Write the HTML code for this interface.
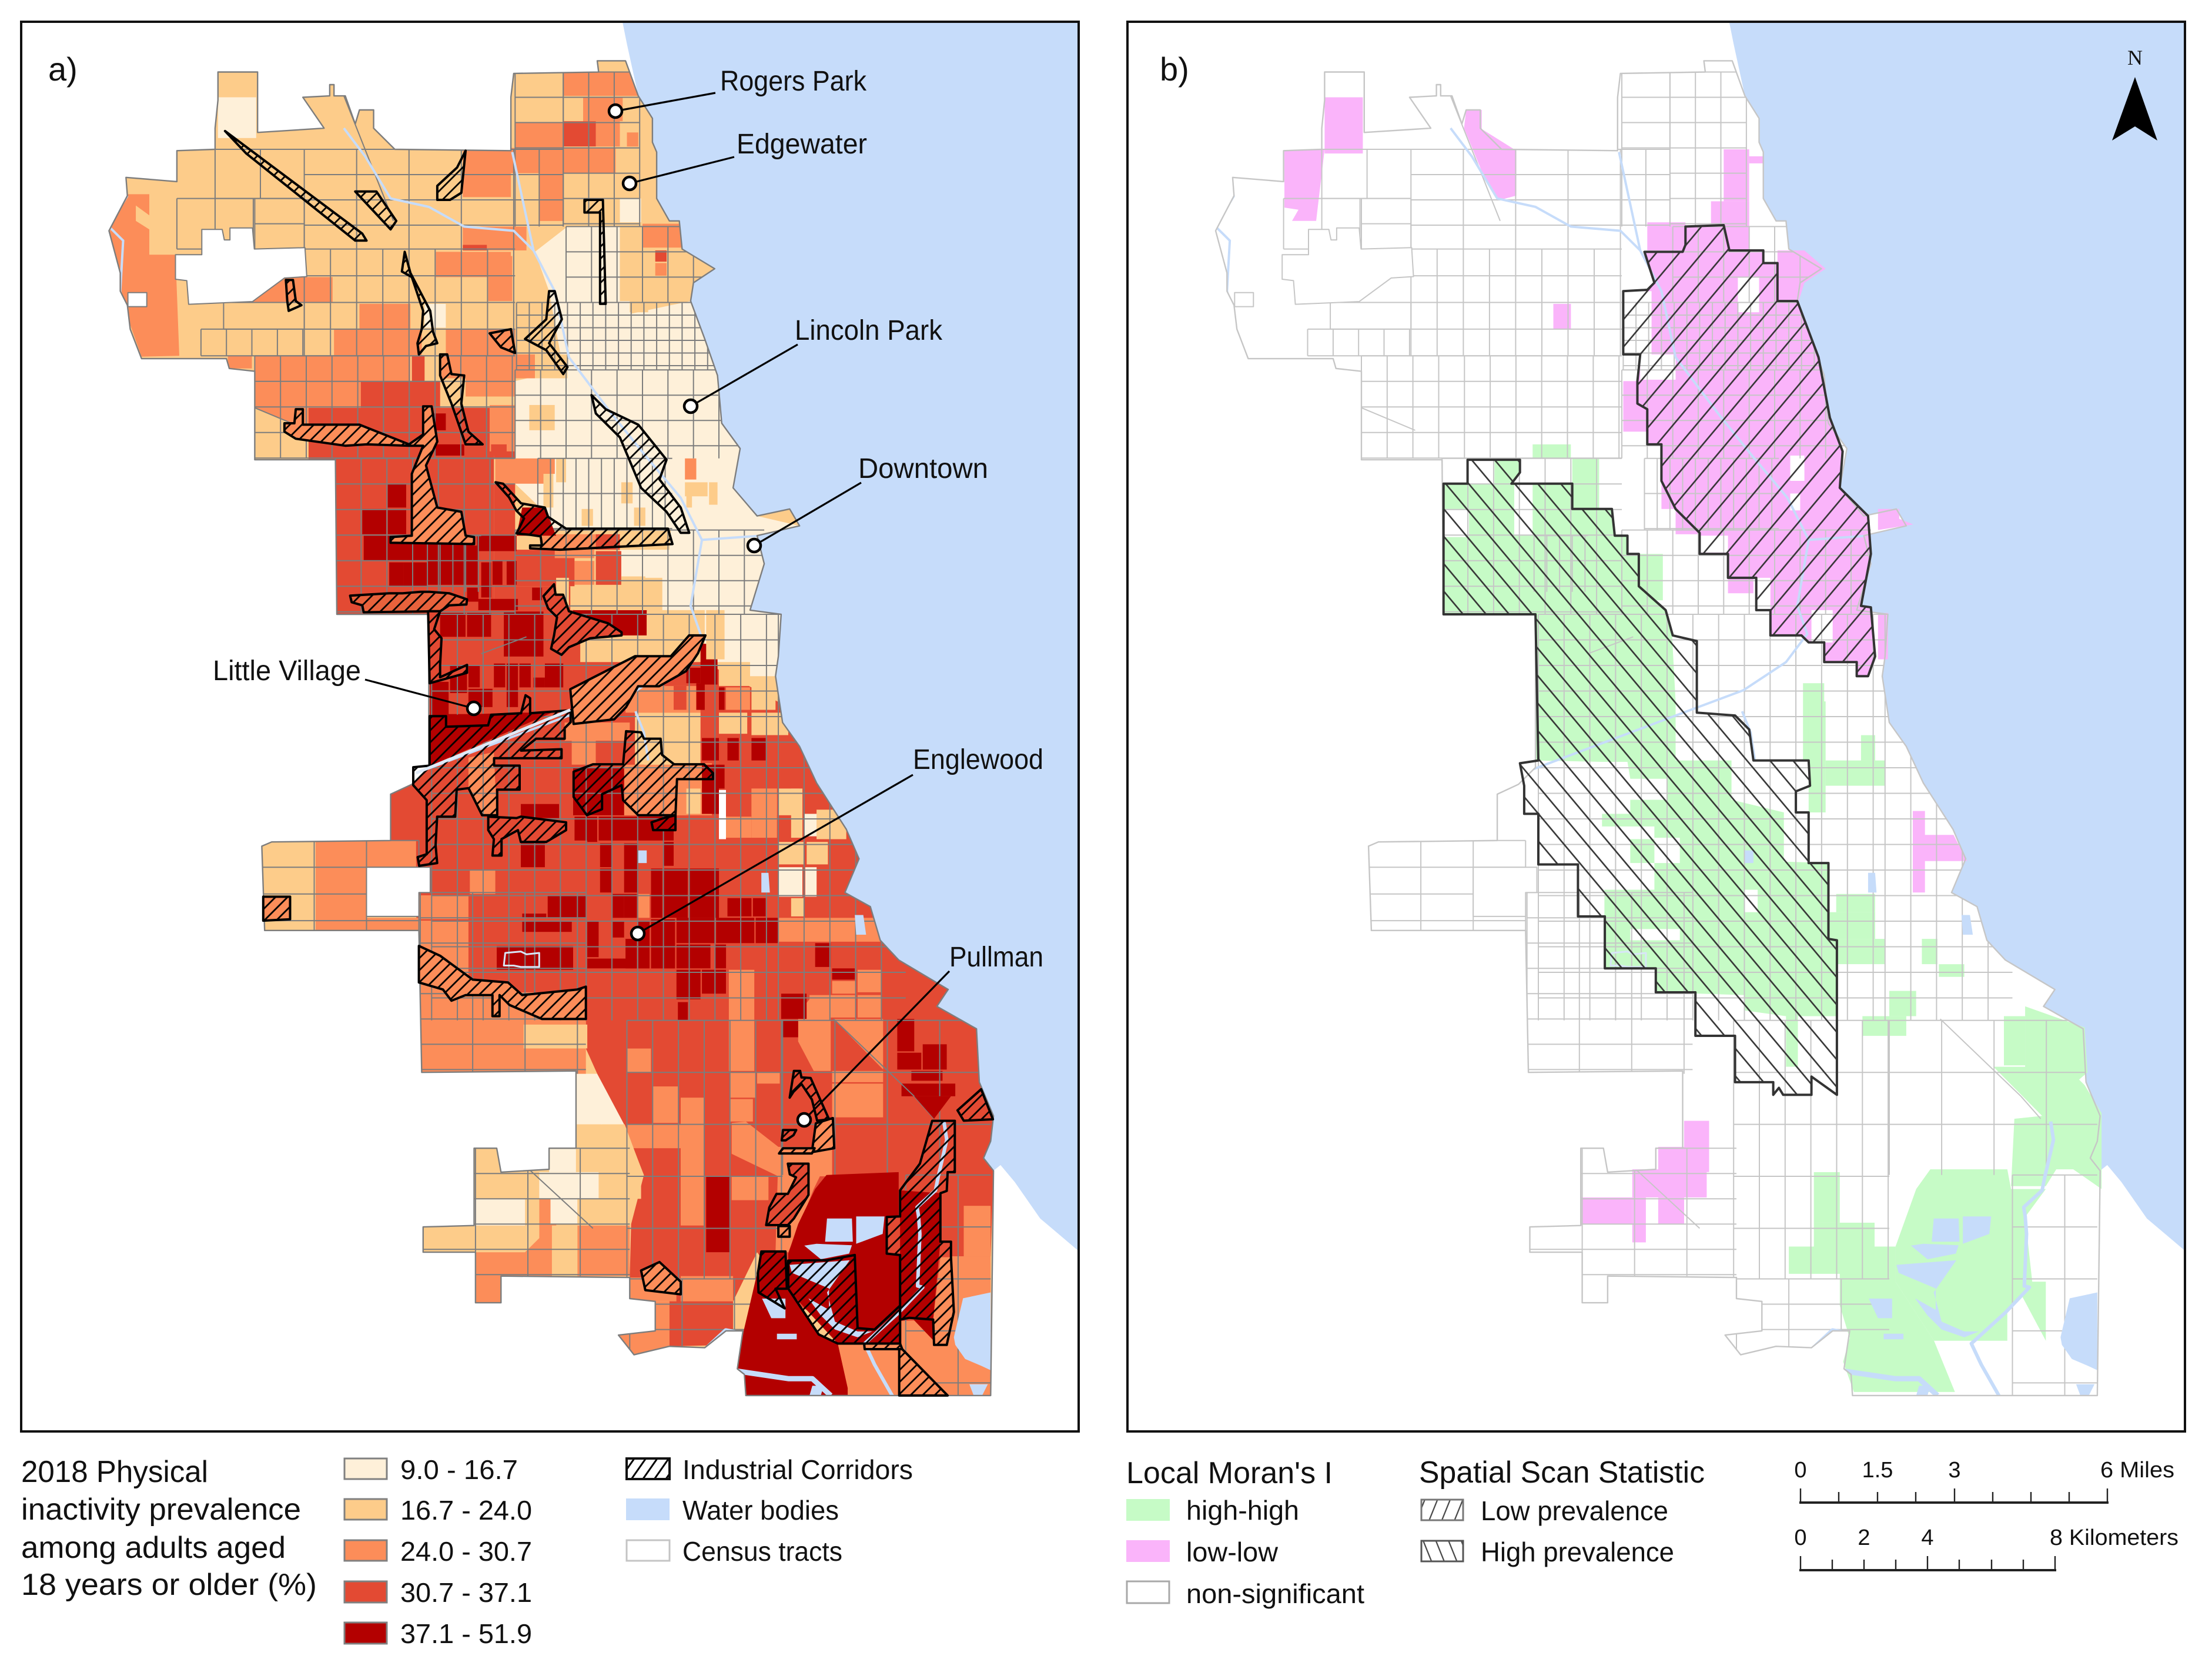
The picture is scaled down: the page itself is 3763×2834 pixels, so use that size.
<!DOCTYPE html>
<html lang="en">
<head>
<meta charset="utf-8">
<title>Physical inactivity prevalence in Chicago</title>
<style>
html,body{margin:0;padding:0;background:#fff}
svg{display:block}
text{font-family:"Liberation Sans",sans-serif;fill:#111}
</style>
</head>
<body>
<svg id="figure" xmlns="http://www.w3.org/2000/svg" width="3763" height="2834" viewBox="0 0 3763 2834">
<defs>
<pattern id="hatch-a" patternUnits="userSpaceOnUse" width="14.5" height="14.5" patternTransform="rotate(45)"><line x1="4" y1="0" x2="4" y2="14.5" stroke="#000" stroke-width="2.8"/></pattern>
<pattern id="hatch-low" patternUnits="userSpaceOnUse" width="30" height="30" patternTransform="rotate(40)"><line x1="5" y1="0" x2="5" y2="30" stroke="#333" stroke-width="2.6"/></pattern>
<pattern id="hatch-high" patternUnits="userSpaceOnUse" width="30" height="30" patternTransform="rotate(-40)"><line x1="5" y1="0" x2="5" y2="30" stroke="#333" stroke-width="2.6"/></pattern>
<pattern id="leg-a" patternUnits="userSpaceOnUse" width="16" height="16" patternTransform="rotate(35)"><line x1="3" y1="0" x2="3" y2="16" stroke="#000" stroke-width="3"/></pattern>
<pattern id="leg-low" patternUnits="userSpaceOnUse" width="20" height="20" patternTransform="rotate(22)"><line x1="3" y1="0" x2="3" y2="20" stroke="#444" stroke-width="2.2"/></pattern>
<pattern id="leg-high" patternUnits="userSpaceOnUse" width="20" height="20" patternTransform="rotate(-22)"><line x1="3" y1="0" x2="3" y2="20" stroke="#444" stroke-width="2.2"/></pattern>
</defs>

<g id="map-a"></g>
<g id="map-b"></g>

<rect x="36" y="37" width="1799" height="2398" fill="none" stroke="#111" stroke-width="4"/>
<rect x="1918" y="37" width="1799" height="2398" fill="none" stroke="#111" stroke-width="4"/>
<text x="82" y="137" font-size="56">a)</text>
<text x="1973" y="137" font-size="56">b)</text>

<g>
<g stroke="#000" stroke-width="3.2">
<line x1="1217" y1="158" x2="1047" y2="189"/>
<line x1="1249" y1="267" x2="1071" y2="312"/>
<line x1="1357" y1="586" x2="1175" y2="691"/>
<line x1="1465" y1="821" x2="1283" y2="928"/>
<line x1="621" y1="1156" x2="806" y2="1205"/>
<line x1="1553" y1="1318" x2="1085" y2="1588"/>
<line x1="1615" y1="1652" x2="1368" y2="1905"/>
</g>
<g fill="#fff" stroke="#000" stroke-width="4.5">
<circle cx="1047" cy="189" r="11"/>
<circle cx="1071" cy="312" r="11"/>
<circle cx="1175" cy="691" r="11"/>
<circle cx="1283" cy="928" r="11"/>
<circle cx="806" cy="1205" r="11"/>
<circle cx="1085" cy="1588" r="11"/>
<circle cx="1368" cy="1905" r="11"/>
</g>
<g font-size="48">
<text x="1225" y="154" textLength="249" lengthAdjust="spacingAndGlyphs">Rogers Park</text>
<text x="1253" y="261" textLength="222" lengthAdjust="spacingAndGlyphs">Edgewater</text>
<text x="1352" y="578" textLength="251" lengthAdjust="spacingAndGlyphs">Lincoln Park</text>
<text x="1460" y="813" textLength="221" lengthAdjust="spacingAndGlyphs">Downtown</text>
<text x="362" y="1157" textLength="252" lengthAdjust="spacingAndGlyphs">Little Village</text>
<text x="1553" y="1308" textLength="222" lengthAdjust="spacingAndGlyphs">Englewood</text>
<text x="1615" y="1644" textLength="160" lengthAdjust="spacingAndGlyphs">Pullman</text>
</g>
</g>

<g>
<text x="3632" y="110" font-size="36" text-anchor="middle" style="font-family:'Liberation Serif',serif">N</text>
<polygon points="3632,131 3670,239 3632,215 3593,239" fill="#000"/>
</g>

<g>
<g font-size="52">
<text x="36" y="2521" textLength="318" lengthAdjust="spacingAndGlyphs">2018 Physical</text>
<text x="36" y="2585" textLength="476" lengthAdjust="spacingAndGlyphs">inactivity prevalence</text>
<text x="36" y="2650" textLength="450" lengthAdjust="spacingAndGlyphs">among adults aged</text>
<text x="36" y="2713" textLength="503" lengthAdjust="spacingAndGlyphs">18 years or older (%)</text>
</g>
<g stroke="#808080" stroke-width="3">
<rect x="586" y="2481" width="72" height="35" fill="#fef0d9"/>
<rect x="586" y="2550" width="72" height="35" fill="#fdcc8a"/>
<rect x="586" y="2620" width="72" height="35" fill="#fc8d59"/>
<rect x="586" y="2690" width="72" height="36" fill="#e34a33"/>
<rect x="586" y="2760" width="72" height="36" fill="#b30000"/>
</g>
<g font-size="46">
<text x="681" y="2516" textLength="200" lengthAdjust="spacingAndGlyphs">9.0 - 16.7</text>
<text x="681" y="2585" textLength="224" lengthAdjust="spacingAndGlyphs">16.7 - 24.0</text>
<text x="681" y="2655" textLength="224" lengthAdjust="spacingAndGlyphs">24.0 - 30.7</text>
<text x="681" y="2725" textLength="224" lengthAdjust="spacingAndGlyphs">30.7 - 37.1</text>
<text x="681" y="2795" textLength="224" lengthAdjust="spacingAndGlyphs">37.1 - 51.9</text>
<text x="1161" y="2516" textLength="392" lengthAdjust="spacingAndGlyphs">Industrial Corridors</text>
<text x="1161" y="2585" textLength="266" lengthAdjust="spacingAndGlyphs">Water bodies</text>
<text x="1161" y="2655" textLength="272" lengthAdjust="spacingAndGlyphs">Census tracts</text>
</g>
<rect x="1066" y="2481" width="73" height="35" fill="url(#leg-a)" stroke="#111" stroke-width="4"/>
<rect x="1065" y="2549" width="74" height="37" fill="#c6dcfa"/>
<rect x="1066" y="2620" width="73" height="35" fill="#fff" stroke="#c4c4c4" stroke-width="3"/>
</g>

<g>
<text x="1916" y="2523" font-size="52" textLength="351" lengthAdjust="spacingAndGlyphs">Local Moran's I</text>
<text x="2414" y="2522" font-size="52" textLength="486" lengthAdjust="spacingAndGlyphs">Spatial Scan Statistic</text>
<rect x="1916" y="2550" width="74" height="37" fill="#c6fbc6"/>
<rect x="1916" y="2620" width="74" height="37" fill="#fab4fa"/>
<rect x="1917" y="2690" width="72" height="37" fill="#fff" stroke="#a8a8a8" stroke-width="3"/>
<rect x="2418" y="2551" width="71" height="35" fill="url(#leg-low)" stroke="#777" stroke-width="3"/>
<rect x="2418" y="2621" width="71" height="35" fill="url(#leg-high)" stroke="#555" stroke-width="3"/>
<g font-size="46">
<text x="2018" y="2585" textLength="192" lengthAdjust="spacingAndGlyphs">high-high</text>
<text x="2018" y="2656" textLength="156" lengthAdjust="spacingAndGlyphs">low-low</text>
<text x="2018" y="2727" textLength="303" lengthAdjust="spacingAndGlyphs">non-significant</text>
<text x="2519" y="2586" textLength="319" lengthAdjust="spacingAndGlyphs">Low prevalence</text>
<text x="2519" y="2656" textLength="329" lengthAdjust="spacingAndGlyphs">High prevalence</text>
</g>
</g>

<g>
<g id="scale-miles"></g>
<g id="scale-km"></g>
<g font-size="38">
<text x="3063" y="2513" text-anchor="middle">0</text>
<text x="3194" y="2513" text-anchor="middle">1.5</text>
<text x="3325" y="2513" text-anchor="middle">3</text>
<text x="3573" y="2513" textLength="126" lengthAdjust="spacingAndGlyphs">6 Miles</text>
<text x="3063" y="2628" text-anchor="middle">0</text>
<text x="3171" y="2628" text-anchor="middle">2</text>
<text x="3279" y="2628" text-anchor="middle">4</text>
<text x="3487" y="2628" textLength="219" lengthAdjust="spacingAndGlyphs">8 Kilometers</text>
</g>
</g>
</svg>

<script>
// ---- Geographic data, in map units ----
const lakeShore = "440,15 762,15 762,889 735,866 717,840 707,828 702,832 695,823 700,811 702,793 692,769 690,731 662,715 670,703 635,682 622,668 615,644 597,634 607,610 598,589 577,556 565,530 553,513 548,480 550,466 552,436 530,433 540,400 535,380 565,373 558,361 535,366 518,346 523,318 510,300 507,266 498,240 488,213 490,200 505,190 482,176 480,156 473,156 464,140 464,107 461,100 461,83 451,67 443,30";
const cityOutline = "154,50 182,50 182,93 229,90 214,68 233,67 233,59 236,59 236,67 244,67 251,87 254,77 264,77 264,90 279,105 361,106 361,68 363,51 423,50 422,42 442,42 451,67 461,83 461,100 464,107 464,140 473,156 480,156 482,176 505,190 490,200 488,213 498,240 507,266 510,300 523,318 518,346 535,366 558,361 565,373 535,380 540,400 530,433 552,436 550,466 548,480 553,513 565,530 577,556 598,589 607,610 597,634 615,644 622,668 635,682 670,703 662,715 690,731 692,769 702,793 700,811 695,823 702,832 700,992 527,992 526,977 521,973 525,946 513,946 498,958 473,957 448,963 437,949 463,946 463,925 445,923 445,908 354,907 354,926 336,926 336,890 299,890 299,872 335,871 335,816 351,816 354,833 388,831 388,816 407,816 407,761 298,762 296,661 187,661 185,601 192,598 276,597 276,564 291,557 303,545 303,436 238,436 237,326 180,326 180,263 162,261 160,254 100,254 92,233 90,216 85,206 85,193 77,163 90,138 89,125 125,128 125,106 152,105 152,90 154,70";
const holePolys = ["124,180 142.6,180 142.6,162 157,162 158.5,169.5 162.5,169.5 162.5,161 178.4,161 179.7,176 215.5,175 216.8,195.6 201,196.6 178.4,213.4 133.3,215.3 132,198.5 124,197.5","259,616 304,616 304,634 296,634 296,651 259,651","90.4,207 103.7,207 103.7,217 90.4,217"];
const rivers = ["362,107 377,177 392,206 402,253 432,293 456,323 481,353 496,383 538,380","496,383 488,430 495,450 480,470 450,490 410,505 294,549","243,90 258,110 276,140 303,146 328,160 363,163 377,177","90,138 77,160 87,170 85,206 95,250","449,505 455,520 458,540"];
const thickRivers = ["498,960 513,946 523,948 517,960 517,974 557,980 574,980 587,992"];
const calumetChannel = ["667,797 669,810 663,836 661,846 648,858 649,864 650,877 648.4,914 652,915 635,933 611,955 618,970 631,993"];
const waterPolys = ["584.4,866 602,866 602.6,882.5 583,882.5","605,864.5 625,864.5 623.7,877 609,882.5 605,884","568.3,885.3 577,884 602,885 600,891 580,895","558,899 600.4,895.7 584.4,918.6 590,939.4 606,946.4 616.4,946.4 606,950.6 590,945 580,935 571.2,922.8 585.8,931 585.8,915.8 559.6,904.7","674,950.5 680.5,922.8 700,918.6 700,974 693.7,971 682,966 675,956","685,984 698,984 694,992 688,992","451,604 457,604 457,613 451,613","538,620 543,620 544,634 538,634","604,650 610,650 612,664 605,664","538.5,923 555,923 555,937 545,937","549,948 563,948 563,952 549,952","574,985 582,985 580,992 572,992"];
const pondOutlines = ["357,677 368,676 372,678 381,677 381,687 368,687 363,686 356,686"];

const c1Polys = ["378,178 401,160 438,160 438,213 446,213 446,222 488,213 498,240 507,266 510,300 523,318 518,346 535,366 565,373 535,380 540,400 530,433 552,436 550,466 548,480 530,480 530,470 498,470 498,433 468,433 468,410 438,410 438,390 473,390 474,376 398,376 364,343 351,325 364,325 364,270 398,262 388,206","407.5,763 422,763 441.4,799 407.5,799"];
const c4BigPolys = ["303,433 410,433 410,470 498,470 553,500 577,556 598,589 607,610 597,634 615,644 622,668 635,682 670,703 662,715 690,731 692,769 702,793 700,811 695,823 702,832 700,893 665,893 665,955 610,956 560,925 535,890 518,925 518,956 473,957 473,925 445,908 446,870 455,835 441,799 422,763 414,745 414,726 297,726 297,660 276,597 276,564 291,557 303,545"];
const c4BigRects = [[218,289,349,326],[237,325,349,436],[349,288,364,325],[349,343,364,436],[364,390,406,416],[364,416,403,435]];
const c3Polys = ["180,271 218,271 218,305 180,289","179,213 201,196 201,214 179,214","88,137 105.5,137 105.5,152 96,145 96,156 105.5,162 105.5,180 124,180 126.7,252 100,252.6 91,227 85.6,205 83,190 77,165","331,538 349,534 351,579 340,579 331,560","572,710 587,710 587,761 575,761 564,740 564,720","589,724 624,724 624,760","517,798 527,797 550,815 588,815 588,836 550,836 517,820","550,820 588,818 575,845 557,890 548,890","592,955 636,955 636,992 599,992","660,938 672,893 700,893 700,992 637,992 637,939","664.5,893.6 672,893.6 674,932.5 669,956 660,956 659.4,938","381,852 390,852 399,907 354,907 354,926 336,926 336,890 371,890 381,880","408,871 445,871 445,907 408,907"];
const c3Rects = [[398,50,451,67],[412,68,440,85],[364,86,398,104],[421,85,438,103],[443,93,451,103],[361,104,435,122],[327,105,361,139],[381,122,398,156],[454,158,482,175],[463,186,471,195],[327,160,372,177],[308,178,361,196],[345,181,362,213],[201,196,235,214],[254,215,290,233],[236,233,298,252],[315,233,364,252],[312,251,378,268],[161,252,178,261],[180,252,218,271],[218,252,290,270],[218,270,255,289],[329,268,364,281],[346,287,364,320],[392,389,420,396],[406,398,420,415],[350,325,384,343],[384,325,392,336],[484,325,492,340],[383,379,421,390],[442,487,495,506],[513,488,530,504],[404,526,421,543],[399,513,445,526],[441,542,503,579],[477,555,485,579],[531,560,549,595],[513,580,531,595],[550,652,622,669],[223,597,259,661],[259,597,294,616],[259,652,296,661],[332,618,350,635],[296,636,331,653],[296,654,331,672],[451,635,459,652],[297,672,331,726],[297,705,414,763],[443,745,460,762],[515,689,533,761],[516,762,534,780],[535,762,551,770],[461,772,479,798],[443,799,481,816],[481,780,498,836],[481,836,498,871],[517,836,543,853],[516,781,532,797],[588,697,605,706],[606,689,623,705],[572,707,605,723],[606,707,623,723],[588,761,624,769],[588,770,624,794],[481,907,518,925],[445,908,478,925],[437,925,473,963],[681,857,700,893],[531,560,549,579]];
const c4SmallPolys = ["650,827 658.7,796.5 674.7,796.5 674.7,833 669.6,833 669,846.4 636,846","664.5,882.5 672,882.5 672,893.6 664.5,893.6"];
const c4Small = [[398,85,421,103],[327,173,344,177],[463,177,471,185],[421,379,438,390],[421,391,439,415],[291,252,300,272],[255,270,311,289],[421,526,440,540],[476,487,485,504],[442,519,455,543],[550,560,559,595],[347,315,358,323]];
const c5Polys = ["584,835 635,833 635,864 627,865 627,891 636,892 636,955 592,955 557,917 557,891 564,870 576,845","636,846 664.5,848 664.5,882 659.4,938 642.6,936.7 636,938","538,889.5 555,889.5 556,916 548,916 554.5,930 536,918.6 535.5,905","548,916 556,916 578.5,948.5 592,955 599,986.7 599,992 527,992 526,977 521,973 525.4,946.4 535,905","645.5,938 659.4,938 659.4,952.6","646,779 672,779 660,795","303.6,508 368,506 390,506 303.6,544","369,360 385,360 393,380 365,380"];
const c5Rects = [[303,293,315,305],[307,315,328,323],[274,343,287,360],[256,361,273,379],[274,361,287,379],[257,380,274,398],[274,380,334,398],[337,380,365,391],[275,399,285,416],[285,399,302,416],[302,387,338,415],[340,399,347,424],[348,398,355,415],[358,398,365,415],[376,417,383,426],[330,417,338,427],[338,425,366,433],[311,435,329,452],[330,435,347,452],[356,434,384,466],[318,472,330,492],[331,472,339,488],[349,471,357,488],[358,471,366,502],[367,471,375,488],[377,481,385,488],[385,471,398,488],[331,489,348,502],[304,484,317,508],[304,507,345,517],[405,433,457,451],[495,457,507,486],[485,474,495,485],[492,485,498,504],[508,488,512,504],[496,524,508,540],[514,524,522,540],[531,524,541,540],[496,543,508,578],[508,543,512,560],[368,571,395,581],[368,599,385,616],[405,545,441,579],[406,580,422,597],[423,580,476,597],[415,581,422,598],[424,599,432,616],[424,617,432,634],[441,599,451,634],[433,635,441,652],[441,635,450,652],[460,617,468,652],[469,617,486,652],[469,598,476,615],[487,617,508,652],[478,652,505,670],[506,652,533,670],[534,652,550,670],[514,638,531,651],[532,638,541,651],[387,636,414,652],[369,654,404,662],[369,649,386,652],[351,672,405,689],[415,654,423,680],[415,681,450,688],[433,654,441,666],[442,667,450,688],[451,654,459,688],[460,653,477,688],[478,671,502,688],[505,671,513,688],[496,689,513,706],[478,689,495,710],[479,712,486,725],[552,706,570,724],[552,725,564,737],[576,670,587,687],[588,688,604,696],[634,724,646,747],[634,748,651,760],[652,742,669,760],[644,761,666,768],[637,770,675,779],[499,836,516,890]];
const c2Polys = ["425.5,799 441.4,799 455,835.6 424.5,835.6","180,289 218,305 218,326 180,326"];
const c2Rects = [[398,68,412,85],[329,281,364,287],[378,251,401,268],[374,287,392,305],[445,213,458,221],[461,195,471,213],[393,410,402,433],[406,415,439,433],[439,409,456,420],[439,421,467,433],[457,434,468,451],[499,433,512,468],[484,342,500,352],[501,342,507,358],[485,350,489,360],[439,342,447,357],[411,361,419,373],[448,360,456,373],[384,336,391,360],[393,325,400,342],[448.7,506,495,543],[455,524,467,543],[508,506,528,521],[531,506,557,522],[531,488,548,504],[508,470,529,487],[485,560,495,578],[550,560,565,579],[559,560,567,595],[577,575,598,596],[550,598,568,614],[570,598,585,614],[559,638,568,651],[184,599,222,635],[187,654,222,661],[370,728,415,745],[407.5,799,424.5,835.6],[334,816,371,852],[299,871,371,890],[371,832,381,880],[424,835,453,852],[408,852,445,870],[390,871,408,907]];
const c1Rects = [[438,140,453,157],[300,215,315,232],[154,68,181,97],[550,616,567,637],[569,616,577,637],[568,578,577,594],[335,852,371,871],[388,816,407,833],[381,833,423,852],[389,852,408,870],[387,360,400,375]];
const whiteRects = [[508,561,513,596]];

// Tract grid zones: x0, x1, y0, y1, column step, row step
const gridZones = [[152,215,105,140,32,35],[125,180,140,176,27,36],[215,364,105,176,37,18],[215,364,176,252,18.5,19],[142,215,233,252,18,19],[180,215,140,176,35,18],[158,215,214,233,57,19],[364,398,50,105,34,18],[398,452,50,160,18,18],[364,398,105,160,17,18],[400,505,160,214,18,18],[365,540,214,262,9,9],[364,540,262,325,18,18],[380,475,325,376,9,25],[364,540,376,436,18,18],[180,364,252,325,18.2,18.2],[237,364,325,436,18.2,18.2],[302,340,380,420,9,200],[305,550,436,725,18.2,18.2],[550,640,436,725,18.2,18.2],[185,296,597,661,37,19],[297,414,634,763,37,18],[443,553,725,909,18.2,37],[553,700,725,835,37,37],[640,700,835,992,37,37],[445,553,909,960,37,18],[299,445,816,907,37,18]];
const diagonalTracts = ["243,67 278,156","362,820 419,873","180,289 218,305","589,724 646,779","646,779 660,795","340,464 372,452"];

const corridors = [
 ["159,92 256,165 259,170 251,170 174,108",null],
 ["251,135 266,135 280,156 276,162",null],
 ["329,106 326,136 318,141 309,141 309,131 323,118",null],
 ["413,141 426,141 428,215 424,215 424,150 413,150",null],
 ["286,178 290,193 304,220 306,235 309,243 301,245 296,251 295,243 298,233 299,220 291,196 284,192",null],
 ["202,198 207,198 209,213 213,216 204,220 203,213",null],
 ["346,236 361,233 364,250 354,246",null],
 ["388,206 392,206 397,226 388,243 401,260 398,265 386,248 371,240 386,226",null],
 ["311,251 316,251 319,265 328,266 326,286 331,306 341,315 329,315 319,286 311,266",null],
 ["209,290 214,290 214,301 254,301 289,315 299,308 299,288 305,288 309,313 301,330 309,360 326,363 329,380 335,381 335,386 276,385 276,381 291,380 291,361 291,336 299,316 289,316 259,315 244,316 209,311 201,306 201,300 208,300","#fc8d59"],
 ["418,280 428,290 451,301 471,326 466,340 481,360 487,378 481,378 471,363 453,346 438,310 421,293",null],
 ["350.2,342 355.5,343 368.2,357 385,360 387.3,366.6 400,375 472,375 475.2,386 395.8,390 374.6,389 374.6,387 383,387 382,380.5 374.6,379.4 365,378.4 370.3,367.7 365,362.3 359.7,352.7",null],
 ["247.4,422.7 275,421 284.5,421 297.2,420 303.6,420 317.4,421 330,425.3 329.6,429 317.4,429.6 311,433.8 257,434.5 256,429.6 248.5,427.4","#e8623c"],
 ["302.5,433.8 311,433.8 306.8,446.6 312,453 311,472 311,480.8 330,472 330,477.6 303.6,485","#e34a33"],
 ["384,423 391.5,414.6 392.6,422 397.9,422 402,433.8 429.7,442.4 439.2,448.8 439.2,451 417,453 402,459.4 396.8,464.8 389.4,460.5 391.5,451 393.6,438 387.3,431.7","#e34a33"],
 ["403,489.3 448.7,465.8 474,465.8 486.9,451 498.5,451 493.2,463.7 484.7,476.5 465.7,487.2 450.9,487.2 442.4,502 434,510.7 405.3,514","#fc8d59"],
 ["303.6,508.5 315.2,508.5 315.2,516 344.9,515 347,507.5 368.2,506.4 371.4,493.6 374.6,495.7 374.6,506.4 403.2,504.3 403.2,512.8 399,517 399,524.5 378.8,524.5 368.2,533 396.8,532 396.8,538.4 349.1,538.4 349.1,543.7 367.2,543.7 367.2,560.8 351.3,560.8 351.3,579 340.7,579 331.1,559.7 322.7,560.8 321.6,580 308.9,580 307.8,600.3 308.9,613 296.2,615 295.1,608.8 301.5,606.7 301.5,568.3 292,557.6 292,544.8 303.6,543.7",null],
 ["345,580 365,581 368,580 400,584 400,589.6 386,598 368,598 366,589.6 354.4,596 354.4,607.7 348,607.7 349,596 345,589.6","#e34a33"],
 ["442.4,519.2 453,520 455,524.5 466.8,524.5 467.8,536 476.3,542.7 497.5,542.7 503.8,549 503.8,553.3 478.4,553.3 477.3,579 451,579 440.3,568.3 439.2,557.6 425.4,564 425.4,574.7 414.8,579 405.3,566 405.3,548 419,542.7 440.3,542.7",null],
 ["460.4,584 469,581 477.3,579 477.3,589.6 461.5,589.6","#b30000"],
 ["186,637 205,637 205,653 186,654","#fc8d59"],
 ["296,672 311,679 334,696 359,698 369,707 408,703 414,701 414,724 383,724 360,714 353,707 353,722 348,722 348,707 329,707 319,711 313,703 296,698","#fc8d59"],
 ["558,780 561,761 565.4,761 566.3,765.6 572.8,766 585.8,795.4 577.4,796.4 573.7,781.4 566.3,770.2 560.7,775.8","#e34a33"],
 ["576.5,798.3 588.5,794.5 589.5,816 573.7,818.8","#fc8d59"],
 ["550.5,819.7 553.3,816 575.6,816 573.7,819.7","#fc8d59"],
 ["552.4,810.4 553.3,803 562.6,803 560.7,806.7 555.2,810.4",null],
 ["556.7,827 571.3,827 571.3,849.2 561,866 556.7,870.7 541.4,870.7 543.6,858.2 548.7,848.5 556.7,848.5 562.5,836.7 558.1,834.6","#e34a33"],
 ["550,871.4 558,871.4 558,879 550,879","#fc8d59"],
 ["453,903 466,897 481,911 481,920 456,917","#fc8d59"],
 ["538,889.5 555,889.5 556,916 548,916 554.5,930 536,918.6 535.5,905",null],
 ["557,896 584.4,895.7 604,892 606,944 618,945 636,928 636,955 592,955 578.5,948.5 557,916",null],
 ["636,846 650,827 658.7,796.5 674.7,796.5 674.7,833 669.6,833 669,846.4 664.5,848 664.5,882.5 672,882.5 672,893.6 674,932.5 669,956 660,956 659.4,938 642.6,936.7 636,938 636,892 626.6,891 626.6,865 636,864.5",null],
 ["676.6,789 693.3,774 701.6,795.4 681,796.4","#e34a33"],
 ["610.6,955 636,955 637.5,959 611,959","#fc8d59"],
 ["635.4,959 637.5,959 669.6,992 635.4,992","#fc8d59"]
];
const panelAWaterOver = ["294,549 403,504"];

const lowClusterOutline = "1191,160 1218,159 1222,177 1246,177 1246,186 1256,186 1256,213 1270,213 1285,253 1293,296 1302,320 1300,346 1320,366 1322,393 1315,430 1322,431 1325,466 1320,480 1312,480 1312,470 1289,470 1289,456 1278,456 1273,451 1251,451 1251,433 1241,433 1241,410 1221,410 1221,393 1201,393 1201,378 1184,361 1174,341 1174,315 1164,315 1164,290 1157,286 1157,270 1159,251 1147,251 1147,206 1164,205 1169,200 1162,178 1189,178 1191,173";
const highClusterOutline = "1037,326 1074,326 1074,335 1068,343 1111,343 1111,361 1139,361 1141,380 1150,380 1150,393 1158,393 1158,416 1177,433 1182,451 1199,455 1199,500 1199,506 1226,508 1236,518 1239,540 1278,540 1279,558 1269,562 1269,577 1278,577 1278,613 1292,613 1292,667 1298,668 1298,778 1280,765 1280,778 1260,778 1257,773 1253,778 1253,769 1226,769 1226,736 1198,736 1198,705 1170,705 1170,688 1134,688 1134,651 1115,651 1115,614 1087,614 1087,578 1077,578 1077,558 1074,542 1087,540 1085,436 1020,436 1020,343 1037,343";
const pinkPolys = ["907.6,106 936,105 930,156 913,156 917.5,148 907.6,146.5","1036,77 1047,77 1047,90.6 1071.5,106 1071.5,138 1058,141.5 1048,123 1034.5,90","1256,177 1275,177 1290,190 1275,200 1271,213 1256,213","1360,593 1380.4,593 1390,611.6 1360,611.6","1327,361 1342,361 1342,368 1352,372 1327,376"];
const pinkRects = [[936,68,963,108],[1164,157,1191,177],[1209,142,1236,177],[1218,105,1236,142],[1236,110,1246,115],[1147,270,1164,306],[1174,343,1184,361],[1184,361,1201,379],[1221,410,1239,421],[1327,435,1334,468],[1097.6,215,1110,233],[1190,796.5,1207.7,833],[1171.7,815,1190,833],[1153.4,831,1206,851],[1153.4,851,1163,883],[1171.7,851,1190,870],[1117.4,851,1153.4,870],[1351.6,576,1360.2,634]];
const pinkWhite = [[1228,196,1243,221],[1147,206,1167,251],[1159,251,1184,269],[1201,380,1221,392],[1241,410,1251,433],[1265,323,1275,341],[1265,350,1272,362],[1280,433,1295,456]];
const greenPolys = ["1056,326 1074,326 1074,335 1068,343 1111,343 1111,361 1138.6,361 1140.6,380 1149.5,380 1149.5,393 1158.3,393 1158.3,416 1176.6,433 1181.5,451 1184,498 1184,540 1223.5,540 1223.5,568 1260.5,577 1260.5,612 1291.6,613 1291.6,667 1297.5,667 1297.5,722 1270.4,722 1270.4,758 1262,758 1262,722 1233,718 1233,707 1170,705 1170,687.5 1133.7,687.5 1133.7,632 1152,632 1152,596 1169,596 1169,587 1132,587 1132,578 1152,578 1152,568 1178,568 1178,553 1152,553 1150,541 1132,541 1085,540 1085,435.6 1020,435.6 1020,343 1056,343","1431,715 1473,730 1475,762 1460,775 1431,758","1408.6,758 1460,758 1473,771 1485,791 1485,845 1465,831 1453,831 1445.6,843 1421,843 1423.4,795 1443,793","1354,845 1364,831 1418.4,831 1421,845 1445.6,845 1431,865 1436,911 1418.4,931 1418.4,953 1366.6,953 1339.4,911 1339.4,886","1423.4,911 1445.6,911 1445.6,953","1300,905 1339.4,905 1339.4,911 1366.6,953 1381.4,989.5 1310,989.5 1302.4,968 1307,951 1300,928"];
const greenRects = [[1083,315,1110,325],[1111,325,1130,361],[1158,393,1175,426],[1274,485,1289,540],[1278,498,1290,577],[1290,540,1332,558],[1315,522,1325,540],[1297.5,635,1325,648],[1290,648,1325,667],[1297.5,667,1332,685],[1335,704,1354,722],[1316,722,1347,736],[1358,667,1369,685],[1370,685,1388,694],[1416,722,1431,757],[1281.7,833,1300,869],[1281.7,869,1324.6,886.4],[1264,886,1339.4,905.4]];
const greenWhite = [[1134,613,1169,632],[1169,595,1187,613],[1152,660,1187,668],[1233,632,1242,648],[1070,343,1083,380],[1020,361,1038,381]];

const milesTicks = [3063,3128,3194,3259,3325,3390,3455,3520,3585];
const kmTicks = [3063,3117,3171,3225,3279,3333,3388,3442,3496];

// ---- Projection from map units to page pixels ----
const SX = 2.4075, SY = 2.39, Y0 = 3, OFFSET_B = 782;
const NS = "http://www.w3.org/2000/svg";
function sx(x, off){ return ((x + off) * SX).toFixed(1); }
function sy(y){ return (y * SY + Y0).toFixed(1); }
function project(str, off){
  return str.trim().split(/\s+/).map(function(p){
    const c = p.split(",").map(Number);
    return sx(c[0], off) + "," + sy(c[1]);
  }).join(" ");
}
function addPoly(parent, str, off, fill, stroke, sw){
  const el = document.createElementNS(NS, "polygon");
  el.setAttribute("points", project(str, off));
  el.setAttribute("fill", fill);
  if (stroke) { el.setAttribute("stroke", stroke); el.setAttribute("stroke-width", sw); el.setAttribute("stroke-linejoin", "round"); }
  parent.appendChild(el);
  return el;
}
function addRect(parent, r, off, fill){
  const el = document.createElementNS(NS, "rect");
  el.setAttribute("x", sx(r[0], off));
  el.setAttribute("y", sy(r[1]));
  el.setAttribute("width", ((r[2] - r[0]) * SX).toFixed(1));
  el.setAttribute("height", ((r[3] - r[1]) * SY).toFixed(1));
  el.setAttribute("fill", fill);
  parent.appendChild(el);
  return el;
}
function addLine(parent, x1, y1, x2, y2, stroke, sw){
  const el = document.createElementNS(NS, "line");
  el.setAttribute("x1", x1); el.setAttribute("y1", y1);
  el.setAttribute("x2", x2); el.setAttribute("y2", y2);
  el.setAttribute("stroke", stroke); el.setAttribute("stroke-width", sw);
  parent.appendChild(el);
  return el;
}
function addGroup(parent, name){
  const g = document.createElementNS(NS, "g");
  
  
  parent.appendChild(g);
  return g;
}
function addCityClip(id, off){
  const cp = document.createElementNS(NS, "clipPath");
  cp.setAttribute("id", id);
  const p = document.createElementNS(NS, "polygon");
  p.setAttribute("points", project(cityOutline, off));
  cp.appendChild(p);
  document.querySelector("defs").appendChild(cp);
}
function drawGrid(parent, off, color, sw){
  gridZones.forEach(function(z){
    for (let x = z[0]; x <= z[1]; x += z[4]) {
      addLine(parent, sx(x, off), sy(z[2]), sx(x, off), sy(z[3]), color, sw);
    }
    for (let y = z[2]; y <= z[3]; y += z[5]) {
      addLine(parent, sx(z[0], off), sy(y), sx(z[1], off), sy(y), color, sw);
    }
  });
  diagonalTracts.forEach(function(d){
    const a = d.split(" ").map(function(p){ return p.split(",").map(Number); });
    addLine(parent, sx(a[0][0], off), sy(a[0][1]), sx(a[1][0], off), sy(a[1][1]), color, sw);
  });
}
function drawWater(parent, off){
  rivers.forEach(function(r){
    const el = document.createElementNS(NS, "polyline");
    el.setAttribute("points", project(r, off));
    el.setAttribute("fill", "none");
    el.setAttribute("stroke", "#c6dcfa");
    el.setAttribute("stroke-width", "4");
    
    
    parent.appendChild(el);
  });
  thickRivers.forEach(function(r){
    const el = document.createElementNS(NS, "polyline");
    el.setAttribute("points", project(r, off));
    el.setAttribute("fill", "none");
    el.setAttribute("stroke", "#c6dcfa");
    el.setAttribute("stroke-width", "9");
    el.setAttribute("stroke-linejoin", "round");
    
    
    parent.appendChild(el);
  });
  calumetChannel.forEach(function(r){
    const el = document.createElementNS(NS, "polyline");
    el.setAttribute("points", project(r, off));
    el.setAttribute("fill", "none");
    el.setAttribute("stroke", "#c6dcfa");
    el.setAttribute("stroke-width", "6");
    el.setAttribute("stroke-linejoin", "round");
    
    
    parent.appendChild(el);
  });
  waterPolys.forEach(function(w){
    const el = addPoly(parent, w, off, "#c6dcfa");
    
    
  });
  pondOutlines.forEach(function(w){
    const el = addPoly(parent, w, off, "none", "#d8e6f8", 3);
    
    
  });
}

// ---- Panel A ----
const C = {c1:"#fef0d9", c2:"#fdcc8a", c3:"#fc8d59", c4:"#e34a33", c5:"#b30000"};
const TRACT_A = "#7d7d7d", TRACT_B = "#c6c6c6";
addCityClip("city-clip-a", 0);
addCityClip("city-clip-b", OFFSET_B);

(function(){
  const root = document.getElementById("map-a");
  const lake = addPoly(root, lakeShore, 0, "#c6dcfa");
  
  
  const city = addGroup(root, "tracts-a");
  city.setAttribute("clip-path", "url(#city-clip-a)");
  addPoly(city, cityOutline, 0, C.c2);
  c1Polys.forEach(function(p){
    const el = addPoly(city, p, 0, C.c1);
    
    
  });
  c4BigPolys.forEach(function(p){
    const el = addPoly(city, p, 0, C.c4);
    
    
  });
  c4BigRects.forEach(function(r){
    const el = addRect(city, r, 0, C.c4);
    
    
  });
  c3Polys.forEach(function(p){
    const el = addPoly(city, p, 0, C.c3);
    
    
  });
  c3Rects.forEach(function(r){
    const el = addRect(city, r, 0, C.c3);
    
    
  });
  c4SmallPolys.forEach(function(p){
    const el = addPoly(city, p, 0, C.c4);
    
    
  });
  c4Small.forEach(function(r){
    const el = addRect(city, r, 0, C.c4);
    
    
  });
  c5Rects.forEach(function(r){
    const el = addRect(city, r, 0, C.c5);
    
    
  });
  c2Polys.forEach(function(p){
    const el = addPoly(city, p, 0, C.c2);
    
    
  });
  c2Rects.forEach(function(r){
    const el = addRect(city, r, 0, C.c2);
    
    
  });
  c1Rects.forEach(function(r){
    const el = addRect(city, r, 0, C.c1);
    
    
  });
  whiteRects.forEach(function(r){ addRect(city, r, 0, "#fff"); });
  const grid = addGroup(city, "tract-grid-a");
  drawGrid(grid, 0, TRACT_A, 2);
  c5Polys.forEach(function(p){
    const el = addPoly(city, p, 0, C.c5);
    
    
  });
  const water = addGroup(city, "water-a");
  drawWater(water, 0);
  holePolys.forEach(function(h){
    const el = addPoly(root, h, 0, "#fff", TRACT_A, 2);
    
    
  });
  const outline = addPoly(root, cityOutline, 0, "none", TRACT_A, 2.4);
  
  
  const corr = addGroup(root, "industrial-corridors");
  corridors.forEach(function(c){
    if (c[1]) { addPoly(corr, c[0], 0, c[1]); }
    const el = addPoly(corr, c[0], 0, "url(#hatch-a)", "#000", 4);
    
    
  });
  panelAWaterOver.forEach(function(d){
    const a = d.split(" ").map(function(p){ return p.split(",").map(Number); });
    const el = addLine(root, sx(a[0][0], 0), sy(a[0][1]), sx(a[1][0], 0), sy(a[1][1]), "#dfeaf8", 5);
    
    
  });
})();

// ---- Panel B ----
(function(){
  const root = document.getElementById("map-b");
  const lake = addPoly(root, lakeShore, OFFSET_B, "#c6dcfa");
  
  
  addPoly(root, cityOutline, OFFSET_B, "#fff");
  pinkPolys.forEach(function(p){
    const el = addPoly(root, p, 0, "#fab4fa");
    
    
  });
  pinkRects.forEach(function(r){
    const el = addRect(root, r, 0, "#fab4fa");
    
    
  });
  addPoly(root, lowClusterOutline, 0, "#fab4fa");
  pinkWhite.forEach(function(r){ addRect(root, r, 0, "#fff"); });
  greenPolys.forEach(function(p){
    const el = addPoly(root, p, 0, "#c6fbc6");
    
    
  });
  greenRects.forEach(function(r){
    const el = addRect(root, r, 0, "#c6fbc6");
    
    
  });
  greenWhite.forEach(function(r){ addRect(root, r, 0, "#fff"); });
  const clipGroup = addGroup(root, "tract-grid-b");
  clipGroup.setAttribute("clip-path", "url(#city-clip-b)");
  drawGrid(clipGroup, OFFSET_B, TRACT_B, 2);
  const water = addGroup(clipGroup, "water-b");
  drawWater(water, OFFSET_B);
  holePolys.forEach(function(h){
    const el = addPoly(root, h, OFFSET_B, "#fff", TRACT_B, 2);
    
    
  });
  const outline = addPoly(root, cityOutline, OFFSET_B, "none", TRACT_B, 2.4);
  
  
  const low = addPoly(root, lowClusterOutline, 0, "url(#hatch-low)", "#333", 4);
  
  
  const high = addPoly(root, highClusterOutline, 0, "url(#hatch-high)", "#333", 4);
  
  
})();

// ---- Scale bars ----
(function(){
  const m = document.getElementById("scale-miles");
  const k = document.getElementById("scale-km");
  addLine(m, milesTicks[0] - 2, 2556, milesTicks[8] + 2, 2556, "#222", 4);
  milesTicks.forEach(function(x, i){
    const el = addLine(m, x, i % 4 === 0 ? 2532 : 2538, x, 2556, "#222", 2.4);
    
    
  });
  addLine(k, kmTicks[0] - 2, 2671, kmTicks[8] + 2, 2671, "#222", 4);
  kmTicks.forEach(function(x, i){
    const el = addLine(k, x, i % 4 === 0 ? 2647 : 2653, x, 2671, "#222", 2.4);
    
    
  });
})();
</script>
</body>
</html>
